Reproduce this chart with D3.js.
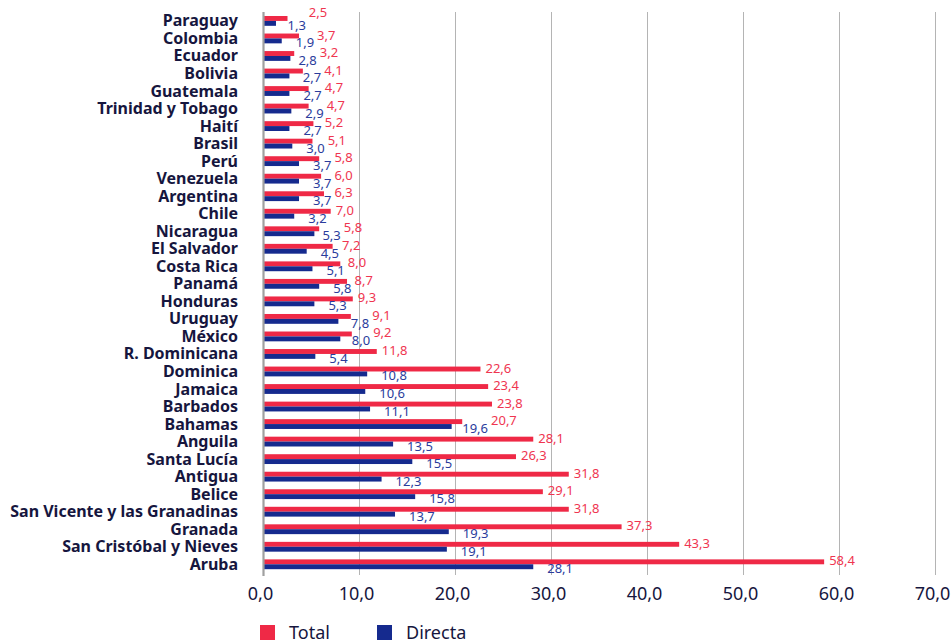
<!DOCTYPE html>
<html>
<head>
<meta charset="utf-8">
<script src="https://cdn.jsdelivr.net/npm/d3@7"></script>
<style>
  html, body { margin: 0; padding: 0; background: #fff; }
  svg { display: block; font-family: "Noto Sans", "Open Sans", sans-serif; }
</style>
</head>
<body>
<svg id="chart" width="952" height="644"></svg>
<script>
const countries = ["Paraguay","Colombia","Ecuador","Bolivia","Guatemala","Trinidad y Tobago","Haití","Brasil","Perú","Venezuela","Argentina","Chile","Nicaragua","El Salvador","Costa Rica","Panamá","Honduras","Uruguay","México","R. Dominicana","Dominica","Jamaica","Barbados","Bahamas","Anguila","Santa Lucía","Antigua","Belice","San Vicente y las Granadinas","Granada","San Cristóbal y Nieves","Aruba"];
const totalValues = [2.5,3.7,3.2,4.1,4.7,4.7,5.2,5.1,5.8,6.0,6.3,7.0,5.8,7.2,8.0,8.7,9.3,9.1,9.2,11.8,22.6,23.4,23.8,20.7,28.1,26.3,31.8,29.1,31.8,37.3,43.3,58.4];
const directaValues = [1.3,1.9,2.8,2.7,2.7,2.9,2.7,3.0,3.7,3.7,3.7,3.2,5.3,4.5,5.1,5.8,5.3,7.8,8.0,5.4,10.8,10.6,11.1,19.6,13.5,15.5,12.3,15.8,13.7,19.3,19.1,28.1];
const xTicks = [0,10,20,30,40,50,60,70];
const seriesNames = ["Total","Directa"];

const colors = { Total: "#EF2946", Directa: "#152A8E" };
const labelColors = { Total: "#EF3550", Directa: "#2A3C9C" };
const textDark = "#16163E";

const svg = d3.select("#chart");
const fmt = v => d3.format(".1f")(v).replace(".", ",");

const x = d3.scaleLinear().domain([0, 70]).range([263.5, 935.5]);
const y = d3.scaleBand().domain(countries).range([12.5, 572.7]).paddingInner(0.44).paddingOuter(0.2);
const ySub = d3.scaleBand().domain(seriesNames).range([0, y.bandwidth()]);

const rows = countries.map((c, i) => ({ country: c, Total: totalValues[i], Directa: directaValues[i] }));

// gridlines
const grid = svg.append("g");
grid.selectAll("line").data(xTicks.filter(t => t > 0)).join("line")
  .attr("x1", d => x(d)).attr("x2", d => x(d))
  .attr("y1", 12).attr("y2", 575)
  .attr("stroke", "#B4B4B4").attr("stroke-width", 1);

// x axis tick labels
const xAxis = d3.axisBottom(x).tickValues(xTicks).tickFormat(fmt).tickSize(0).tickPadding(0);
const ax = svg.append("g").attr("transform", "translate(-3.5,586)").call(xAxis);
ax.select(".domain").remove();
ax.selectAll("text").attr("font-size", 18).attr("fill", textDark)
  .attr("font-family", '"Noto Sans", sans-serif').attr("dy", "0.8em");

// bars
const g = svg.append("g");
const rowG = g.selectAll("g.row").data(rows).join("g").attr("class", "row")
  .attr("transform", d => `translate(0,${y(d.country)})`);

rowG.selectAll("rect").data(d => seriesNames.map(s => ({ s, v: d[s] }))).join("rect")
  .attr("x", x(0))
  .attr("y", d => ySub(d.s))
  .attr("width", d => x(d.v) - x(0))
  .attr("height", ySub.bandwidth())
  .attr("fill", d => colors[d.s]);

// zero axis line
svg.append("line").attr("x1", x(0)).attr("x2", x(0)).attr("y1", 12).attr("y2", 576)
  .attr("stroke", "#A0A0A0").attr("stroke-width", 2.2);

// data labels
rowG.each(function(d, i) {
  const gg = d3.select(this);
  const redEnd = x(d.Total), blueEnd = x(d.Directa);
  const bx = Math.max(blueEnd + 8, Math.min(redEnd, blueEnd + 14));
  const bt = gg.append("text")
    .attr("x", bx)
    .attr("y", ySub("Directa") + ySub.bandwidth() / 2 + 6.5)
    .attr("font-size", 13).attr("fill", labelColors.Directa)
    .text(fmt(d.Directa));
  const bw = bt.node().getComputedTextLength();
  const rx = Math.max(redEnd + 5, bx + bw + 3);
  gg.append("text")
    .attr("x", rx)
    .attr("y", ySub("Total") + ySub.bandwidth() / 2 + (i === 0 ? -1 : 3.5))
    .attr("font-size", 13).attr("fill", labelColors.Total)
    .text(fmt(d.Total));
});

// category labels
svg.append("g").selectAll("text").data(countries).join("text")
  .attr("x", 238)
  .attr("y", d => y(d) + y.bandwidth() / 2 + 5.5)
  .attr("text-anchor", "end")
  .attr("font-size", 16).attr("font-weight", "bold").attr("fill", textDark)
  .text(d => d);

// legend
const legendX = [260, 377];
const leg = svg.append("g").selectAll("g").data(seriesNames).join("g")
  .attr("transform", (d, i) => `translate(${legendX[i]},625)`);
leg.append("rect").attr("width", 15).attr("height", 15).attr("fill", d => colors[d]);
leg.append("text").attr("x", 29).attr("y", 13.5).attr("font-size", 18).attr("fill", textDark).text(d => d);
</script>
</body>
</html>
